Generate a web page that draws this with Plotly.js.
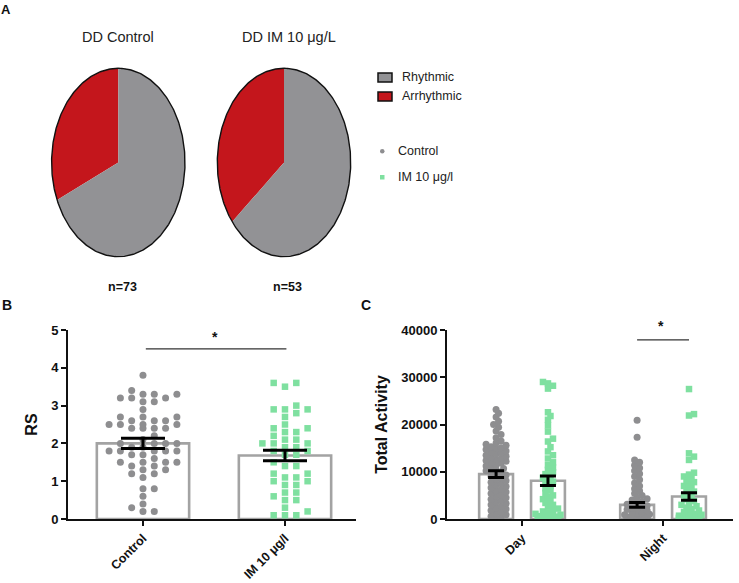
<!DOCTYPE html>
<html>
<head>
<meta charset="utf-8">
<script src="https://cdn.plot.ly/plotly-3.0.1.min.js"></script>
<style>html,body{margin:0;padding:0;background:#fff}#chart{width:739px;height:583px}</style>
</head>
<body>
<div id="chart"></div>
<script>
// ---------------- DATA ----------------
const pieTitles = ['DD Control', 'DD IM 10 μg/L'];
const pieLabels = ['Rhythmic', 'Arrhythmic'];
const rhythmicCounts = [50, 34];
const arrhythmicCounts = [23, 19];
const nLabels = ['n=73', 'n=53'];

const groupNames = ['Control', 'IM 10 μg/l'];

const rsCategories = ['Control', 'IM 10 μg/l'];
const rsControl = [3.8, 3.4, 3.3, 3.3, 3.3, 3.2, 3.2, 3.2, 3.1, 3.1, 2.9, 2.7, 2.7, 2.7, 2.6, 2.6, 2.6,
  2.5, 2.5, 2.5, 2.5, 2.4, 2.4, 2.4, 2.4, 2.2, 2.1, 2.0, 2.0, 2.0, 2.0, 1.9, 1.9, 1.8, 1.8, 1.8, 1.8, 1.8,
  1.7, 1.7, 1.6, 1.5, 1.5, 1.5, 1.5, 1.4, 1.4, 1.3, 1.3, 1.2, 1.2, 1.1, 0.8, 0.8, 0.6, 0.4, 0.3, 0.2, 0.2];
const rsIM = [3.6, 3.6, 3.5, 3.0, 2.9, 2.9, 2.9, 2.8, 2.7, 2.5, 2.4, 2.4, 2.3, 2.3, 2.2, 2.1, 2.1,
  2.0, 2.0, 2.0, 1.9, 1.9, 1.8, 1.8, 1.7, 1.7, 1.5, 1.4, 1.4, 1.2, 1.2, 1.1, 1.1, 1.0, 1.0, 0.9, 0.9,
  0.7, 0.7, 0.6, 0.5, 0.5, 0.3, 0.2, 0.1, 0.1, 0.1];
const rsMeans = [2.0, 1.68];
const rsSEM = [0.135, 0.14];

const actCategories = ['Day', 'Night'];
const actControlDay = [23200, 22400, 21600, 20700, 20000, 19400, 18600, 17900, 17200, 16500, 16100, 15800,
  15600, 15300, 15100, 14900, 14700, 14400, 14200, 14000, 13800, 13500, 13300, 13000, 12800, 12600, 12400,
  12200, 12000, 11800, 11500, 11200, 11000, 10700, 10500, 10200, 10000, 9800, 9500, 9300, 9000, 8700, 8400,
  8100, 7800, 7500, 7200, 6900, 6600, 6300, 6000, 5700, 5400, 5100, 4800, 4500, 4200, 3900, 3600, 3300,
  3000, 2700, 2400, 2100, 1800, 1500, 1200, 900, 600, 300, 100];
const actIMDay = [29000, 28700, 28200, 27600, 22600, 21800, 21000, 19800, 18500, 17000, 16400, 15200, 14300,
  13500, 12800, 12000, 11400, 10900, 10400, 9900, 9500, 9100, 8700, 8300, 7900, 7500, 7000, 6500, 6000,
  5500, 5000, 4600, 4200, 3800, 3400, 3000, 2600, 2200, 1900, 1600, 1300, 1100, 900, 800, 700, 600, 500,
  450, 400, 350, 300, 250, 200, 150, 120, 100, 80, 60, 40, 20];
const actControlNight = [20900, 17300, 12500, 12000, 11400, 10800, 10200, 9600, 9000, 8300, 7600, 7000, 6400,
  5900, 5400, 5000, 4600, 4300, 4000, 3700, 3400, 3100, 2800, 2600, 2400, 2200, 2000, 1800, 1600, 1400,
  1300, 1200, 1100, 1000, 900, 800, 700, 600, 500, 450, 400, 350, 300, 250, 200, 150, 120, 100, 80, 60,
  40, 30, 20, 10];
const actIMNight = [27500, 22200, 21900, 13900, 13200, 12500, 9800, 9400, 9000, 8600, 8200, 7800, 7400, 7000,
  6600, 6200, 5800, 5400, 5000, 4600, 4200, 3800, 3400, 3000, 2700, 2400, 2100, 1800, 1500, 1300, 1100,
  900, 800, 700, 600, 500, 400, 350, 300, 250, 200, 150, 100, 80, 60, 40, 20, 10];
const actControlMeans = [9500, 3000];
const actControlSEM = [700, 500];
const actIMMeans = [8100, 4750];
const actIMSEM = [1000, 800];

// ---------------- STYLE / LAYOUT CONSTANTS ----------------
const W = 739, H = 583;
const FONT = 'Liberation Sans, Arial, sans-serif';
const GREY_DOT = '#8e8e90', GREEN = '#7fe0a0', BAR_LINE = '#a3a3a3';
const PIE_GREY = '#929295', PIE_RED = '#c4161c';
const pieCenters = [[118.3, 162.5], [284, 162.5]];
const pieRx = 66.7, pieRy = 94.2;
const Bdom = {x0: 68, x1: 356, y0: 330, y1: 519};
const Cdom = {x0: 447, x1: 733, y0: 330, y1: 519};
const pxPerCatB = 142, pxPerCatC = 141;
const groupOff = 0.184;
const px = x => x / W, py = y => 1 - y / H;

// ---------------- HELPERS ----------------
function swarm(vals, uy, step, minDist, maxPx) {
  const sorted = vals.slice().sort((a, b) => a - b);
  const placed = [], offs = [];
  for (const v of sorted) {
    const y = v * uy;
    const cands = [0];
    for (let k = 1; k * step <= maxPx; k++) cands.push(k * step, -k * step);
    let best = 0, bestC = Infinity;
    for (const c of cands) {
      let n = 0;
      for (const p of placed) {
        const dx = p.x - c, dy = p.y - y;
        if (dx * dx + dy * dy < minDist * minDist) n++;
      }
      if (n === 0) { best = c; bestC = 0; break; }
      if (n < bestC) { bestC = n; best = c; }
    }
    placed.push({x: best, y});
    offs.push(best);
  }
  return {vals: sorted, offs};
}

function ellipsePts(cx, cy, t0, t1, steps) {
  const xs = [], ys = [];
  for (let i = 0; i <= steps; i++) {
    const t = t0 + (t1 - t0) * i / steps;
    xs.push(cx - pieRx * Math.sin(t));
    ys.push(cy - pieRy * Math.cos(t));
  }
  return {xs, ys};
}

const traces = [];

// ---------------- PANEL A: pies ----------------
pieTitles.forEach((title, i) => {
  const [cx, cy] = pieCenters[i];
  const total = rhythmicCounts[i] + arrhythmicCounts[i];
  const fA = arrhythmicCounts[i] / total;
  const redArc = ellipsePts(cx, cy, 0, fA * 2 * Math.PI, 120);
  const greyArc = ellipsePts(cx, cy, fA * 2 * Math.PI, 2 * Math.PI, 240);
  traces.push({
    type: 'scatter', mode: 'lines', xaxis: 'x3', yaxis: 'y3', name: pieLabels[1],
    x: [cx].concat(redArc.xs, [cx]), y: [cy].concat(redArc.ys, [cy]),
    fill: 'toself', fillcolor: PIE_RED, line: {width: 0, color: PIE_RED}, hoverinfo: 'skip'
  });
  traces.push({
    type: 'scatter', mode: 'lines', xaxis: 'x3', yaxis: 'y3', name: pieLabels[0],
    x: [cx].concat(greyArc.xs, [cx]), y: [cy].concat(greyArc.ys, [cy]),
    fill: 'toself', fillcolor: PIE_GREY, line: {width: 0, color: PIE_GREY}, hoverinfo: 'skip'
  });
  const full = ellipsePts(cx, cy, 0, 2 * Math.PI, 360);
  traces.push({
    type: 'scatter', mode: 'lines', xaxis: 'x3', yaxis: 'y3',
    x: full.xs, y: full.ys, line: {width: 1.4, color: '#111'}, hoverinfo: 'skip'
  });
});

// ---------------- PANEL B: RS ----------------
traces.push({
  type: 'bar', x: [0, 1], y: rsMeans, width: 0.65, xaxis: 'x', yaxis: 'y',
  marker: {color: 'rgba(255,255,255,0)', line: {color: BAR_LINE, width: 2.6}}, hoverinfo: 'skip'
});
const uyB = (Bdom.y1 - Bdom.y0) / 5;
const swC = swarm(rsControl, uyB, 11.3, 7.2, 36);
const swI = swarm(rsIM, uyB, 11.3, 7.2, 36);
traces.push({
  type: 'scatter', mode: 'markers', name: groupNames[0], xaxis: 'x', yaxis: 'y',
  x: swC.offs.map(o => 0 + o / pxPerCatB), y: swC.vals,
  marker: {symbol: 'circle', size: 7, color: GREY_DOT}
});
traces.push({
  type: 'scatter', mode: 'markers', name: groupNames[1], xaxis: 'x', yaxis: 'y',
  x: swI.offs.map(o => 1 + o / pxPerCatB), y: swI.vals,
  marker: {symbol: 'square', size: 6.5, color: GREEN}
});
traces.push({
  type: 'scatter', mode: 'markers', xaxis: 'x', yaxis: 'y', x: [0, 1], y: rsMeans,
  marker: {size: 1, color: 'rgba(0,0,0,0)'},
  error_y: {type: 'data', array: rsSEM, visible: true, color: '#000', thickness: 3, width: 22}, hoverinfo: 'skip'
});

// ---------------- PANEL C: Total activity ----------------
traces.push({
  type: 'bar', x: [0 - groupOff, 1 - groupOff], y: actControlMeans, width: 0.24, xaxis: 'x2', yaxis: 'y2',
  marker: {color: 'rgba(255,255,255,0)', line: {color: BAR_LINE, width: 2.6}}, hoverinfo: 'skip'
});
traces.push({
  type: 'bar', x: [0 + groupOff, 1 + groupOff], y: actIMMeans, width: 0.24, xaxis: 'x2', yaxis: 'y2',
  marker: {color: 'rgba(255,255,255,0)', line: {color: BAR_LINE, width: 2.6}}, hoverinfo: 'skip'
});
const uyC = (Cdom.y1 - Cdom.y0) / 40000;
function swarmXY(vals, center) {
  const s = swarm(vals, uyC, 2.5, 4.4, 13);
  return {x: s.offs.map(o => center + o / pxPerCatC), y: s.vals};
}
const cD = swarmXY(actControlDay, 0 - groupOff), cN = swarmXY(actControlNight, 1 - groupOff);
const iD = swarmXY(actIMDay, 0 + groupOff), iN = swarmXY(actIMNight, 1 + groupOff);
traces.push({
  type: 'scatter', mode: 'markers', name: groupNames[0], xaxis: 'x2', yaxis: 'y2',
  x: cD.x.concat(cN.x), y: cD.y.concat(cN.y),
  marker: {symbol: 'circle', size: 7, color: GREY_DOT}
});
traces.push({
  type: 'scatter', mode: 'markers', name: groupNames[1], xaxis: 'x2', yaxis: 'y2',
  x: iD.x.concat(iN.x), y: iD.y.concat(iN.y),
  marker: {symbol: 'square', size: 6.5, color: GREEN}
});
traces.push({
  type: 'scatter', mode: 'markers', xaxis: 'x2', yaxis: 'y2',
  x: [0 - groupOff, 1 - groupOff, 0 + groupOff, 1 + groupOff],
  y: actControlMeans.concat(actIMMeans),
  marker: {size: 1, color: 'rgba(0,0,0,0)'},
  error_y: {type: 'data', array: actControlSEM.concat(actIMSEM), visible: true, color: '#000', thickness: 3, width: 8},
  hoverinfo: 'skip'
});

// ---------------- LAYOUT ----------------
const axCommon = {
  showgrid: false, zeroline: false, showline: true, linewidth: 2, linecolor: '#111',
  ticks: 'outside', ticklen: 5, tickwidth: 2, tickcolor: '#111', fixedrange: true
};
function ann(text, x, y, o) {
  return Object.assign({
    text, x: px(x), y: py(y), xref: 'paper', yref: 'paper', showarrow: false,
    xanchor: 'center', yanchor: 'middle', font: {family: FONT, size: 13, color: '#111'}
  }, o || {});
}
const annotations = [
  ann('A', 6, 10, {font: {family: FONT, size: 13, color: '#111', weight: 'bold'}}),
  ann('B', 7, 305, {font: {family: FONT, size: 14, color: '#111', weight: 'bold'}}),
  ann('C', 366, 305, {font: {family: FONT, size: 14, color: '#111', weight: 'bold'}}),
  ann(pieTitles[0], 118, 37, {font: {family: FONT, size: 14.5, color: '#222'}}),
  ann(pieTitles[1], 289, 37, {font: {family: FONT, size: 14.5, color: '#222'}}),
  ann(nLabels[0], 122, 287, {font: {family: FONT, size: 12.5, color: '#111', weight: 'bold'}}),
  ann(nLabels[1], 287, 287, {font: {family: FONT, size: 12.5, color: '#111', weight: 'bold'}}),
  ann(pieLabels[0], 400, 77, {xanchor: 'left', font: {family: FONT, size: 12.5, color: '#222'}}),
  ann(pieLabels[1], 400, 96, {xanchor: 'left', font: {family: FONT, size: 12.5, color: '#222'}}),
  ann(groupNames[0], 396, 151, {xanchor: 'left', font: {family: FONT, size: 12.5, color: '#222'}}),
  ann(groupNames[1], 396, 177, {xanchor: 'left', font: {family: FONT, size: 12.5, color: '#222'}}),
  ann('*', 215, 337, {font: {family: FONT, size: 14, color: '#111', weight: 'bold'}}),
  ann('*', 661, 326, {font: {family: FONT, size: 14, color: '#111', weight: 'bold'}})
];
const shapes = [
  {type: 'rect', xref: 'paper', yref: 'paper', x0: px(378), x1: px(392), y0: py(82), y1: py(73),
   fillcolor: PIE_GREY, line: {color: '#111', width: 1.5}},
  {type: 'rect', xref: 'paper', yref: 'paper', x0: px(378), x1: px(392), y0: py(101), y1: py(92),
   fillcolor: PIE_RED, line: {color: '#111', width: 1.5}},
  {type: 'circle', xref: 'paper', yref: 'paper', x0: px(380), x1: px(384.5), y0: py(153.5), y1: py(149),
   fillcolor: GREY_DOT, line: {width: 0}},
  {type: 'rect', xref: 'paper', yref: 'paper', x0: px(380), x1: px(384.5), y0: py(179.5), y1: py(175),
   fillcolor: GREEN, line: {width: 0}},
  {type: 'line', xref: 'x', yref: 'y', x0: 0.02, x1: 1.01, y0: 4.5, y1: 4.5, line: {color: '#333', width: 1.3}},
  {type: 'line', xref: 'x2', yref: 'y2', x0: 1 - groupOff, x1: 1 + groupOff, y0: 37900, y1: 37900,
   line: {color: '#333', width: 1.3}}
];

const layout = {
  width: W, height: H, margin: {l: 0, r: 0, t: 0, b: 0},
  paper_bgcolor: '#fff', plot_bgcolor: 'rgba(0,0,0,0)', showlegend: false, barmode: 'overlay',
  font: {family: FONT, color: '#111'},
  xaxis: Object.assign({}, axCommon, {
    domain: [px(Bdom.x0), px(Bdom.x1)], range: [-0.528, 1.5], anchor: 'y',
    tickmode: 'array', tickvals: [0, 1], ticktext: rsCategories, tickangle: -45,
    tickfont: {family: FONT, size: 12.5, color: '#111', weight: 'bold'}
  }),
  yaxis: Object.assign({}, axCommon, {
    domain: [py(Bdom.y1), py(Bdom.y0)], range: [0, 5], anchor: 'x', tickmode: 'linear', tick0: 0, dtick: 1,
    tickfont: {family: FONT, size: 13, color: '#111', weight: 'bold'},
    title: {text: 'RS', font: {family: FONT, size: 16, color: '#111', weight: 'bold'}, standoff: 10}
  }),
  xaxis2: Object.assign({}, axCommon, {
    domain: [px(Cdom.x0), px(Cdom.x1)], range: [-0.532, 1.496], anchor: 'y2',
    tickmode: 'array', tickvals: [0, 1], ticktext: actCategories, tickangle: -45,
    tickfont: {family: FONT, size: 12.5, color: '#111', weight: 'bold'}
  }),
  yaxis2: Object.assign({}, axCommon, {
    domain: [py(Cdom.y1), py(Cdom.y0)], range: [0, 40000], anchor: 'x2', tickmode: 'linear', tick0: 0, dtick: 10000,
    tickformat: 'd',
    tickfont: {family: FONT, size: 13, color: '#111', weight: 'bold'},
    title: {text: 'Total Activity', font: {family: FONT, size: 16, color: '#111', weight: 'bold'}, standoff: 10}
  }),
  xaxis3: {domain: [0, 1], range: [0, W], anchor: 'y3', visible: false, fixedrange: true},
  yaxis3: {domain: [0, 1], range: [H, 0], anchor: 'x3', visible: false, fixedrange: true},
  annotations, shapes
};

Plotly.newPlot('chart', traces, layout, {displayModeBar: false, staticPlot: true});
</script>
</body>
</html>
